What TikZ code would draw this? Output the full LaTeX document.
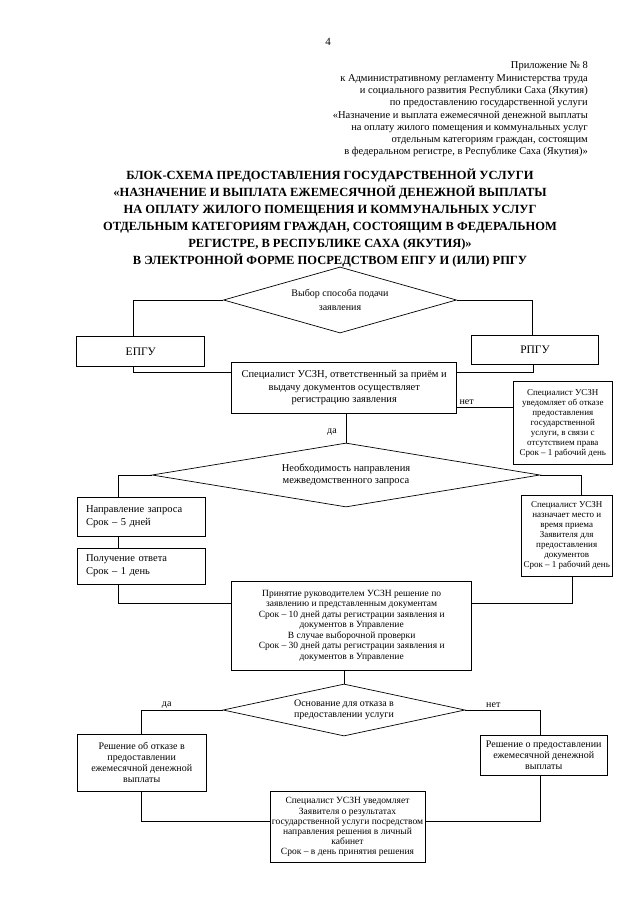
\documentclass[tikz,border=0pt]{standalone}
\usepackage{fontspec}
\setmainfont{Liberation Serif}
\usetikzlibrary{shapes.geometric}
\newcommand\myfs[2]{\fontsize{#1pt}{#2pt}\selectfont}
\begin{document}
\begin{tikzpicture}[x=1pt,y=-1pt,
 box/.style={draw, line width=0.7pt, inner sep=2pt, align=center, font=\myfs{10}{11}},
 dia/.style={draw, diamond, line width=0.7pt, inner sep=0pt, align=center},
 conn/.style={line width=0.7pt},
 lbl/.style={inner sep=0pt, font=\myfs{10}{11}}]
\useasboundingbox[fill=white] (0,0) rectangle (630,905);

\node[inner sep=0pt, font=\myfs{11}{13}] (pnum) at (328,42) {4};
\node[inner sep=0pt, align=right, anchor=east, font=\myfs{10.5}{12.3}] (hdr) at (588,109.5) {Приложение № 8\\
к Административному регламенту Министерства труда\\
и социального развития Республики Саха (Якутия)\\
по предоставлению государственной услуги\\
«Назначение и выплата ежемесячной денежной выплаты\\
на оплату жилого помещения и коммунальных услуг\\
отдельным категориям граждан, состоящим\\
в федеральном регистре, в Республике Саха (Якутия)»};
\node[inner sep=0pt, align=center, font=\bfseries\myfs{12.5}{17}] (ttl) at (330,218) {БЛОК-СХЕМА ПРЕДОСТАВЛЕНИЯ ГОСУДАРСТВЕННОЙ УСЛУГИ\\
«НАЗНАЧЕНИЕ И ВЫПЛАТА ЕЖЕМЕСЯЧНОЙ ДЕНЕЖНОЙ ВЫПЛАТЫ\\
НА ОПЛАТУ ЖИЛОГО ПОМЕЩЕНИЯ И КОММУНАЛЬНЫХ УСЛУГ\\
ОТДЕЛЬНЫМ КАТЕГОРИЯМ ГРАЖДАН, СОСТОЯЩИМ В ФЕДЕРАЛЬНОМ\\
РЕГИСТРЕ, В РЕСПУБЛИКЕ САХА (ЯКУТИЯ)»\\
В ЭЛЕКТРОННОЙ ФОРМЕ ПОСРЕДСТВОМ ЕПГУ И (ИЛИ) РПГУ};

\node[dia, aspect=3.53, minimum width=233pt, minimum height=66pt, font=\myfs{10}{14.4}] (d1) at (340,300) {Выбор способа подачи\\заявления};
\node[box, minimum width=128pt, minimum height=30pt, font=\myfs{11.5}{13}] (epgu) at (140.8,351.7) {ЕПГУ};
\node[box, minimum width=126.6pt, minimum height=29pt, font=\myfs{11.5}{13}] (rpgu) at (535,349.5) {РПГУ};
\node[box, minimum width=225pt, minimum height=50.6pt, font=\myfs{10.5}{12.5}] (b1) at (344.2,388) {Специалист УСЗН, ответственный за приём и\\выдачу документов осуществляет\\регистрацию заявления};
\node[box, minimum width=99pt, minimum height=83pt, font=\myfs{9}{10}] (r1) at (562.8,423.3) {Специалист УСЗН\\уведомляет об отказе\\предоставления\\государственной\\услуги, в связи с\\отсутствием права\\Срок – 1 рабочий день};
\node[dia, aspect=6.06, minimum width=388pt, minimum height=64pt, font=\myfs{10.5}{12}] (d2) at (346,475) {Необходимость направления\\межведомственного запроса};
\node[box, minimum width=128pt, minimum height=39pt, align=left, text width=110pt, inner xsep=9pt, font=\myfs{10.5}{12.7}] (q1) at (141,517) {Направление запроса\\Срок – 5 дней};
\node[box, minimum width=128pt, minimum height=35.7pt, align=left, text width=110pt, inner xsep=9pt, font=\myfs{10.5}{12.7}] (q2) at (141,566) {Получение ответа\\Срок – 1 день};
\node[box, minimum width=90pt, minimum height=81pt, font=\myfs{9}{10}] (r2) at (566.7,535.5) {Специалист УСЗН\\назначает место и\\время приема\\Заявителя для\\предоставления\\документов\\Срок – 1 рабочий день};
\node[box, minimum width=240pt, minimum height=88.3pt, font=\myfs{9.5}{10.5}] (b3) at (351.7,625.8) {Принятие руководителем УСЗН решение по\\заявлению и представленным документам\\Срок – 10 дней даты регистрации заявления и\\документов в Управление\\В случае выборочной проверки\\Срок – 30 дней даты регистрации заявления и\\документов в Управление};
\node[dia, aspect=4.65, minimum width=242pt, minimum height=52pt, font=\myfs{10}{10.7}] (d3) at (344,710) {Основание для отказа в\\предоставлении услуги};
\node[box, minimum width=128.7pt, minimum height=56.7pt] (lbox) at (141.7,762.7) {Решение об отказе в\\предоставлении\\ежемесячной денежной\\выплаты};
\node[box, minimum width=127.3pt, minimum height=40.7pt] (rbox) at (543.7,755.3) {Решение о предоставлении\\ежемесячной денежной\\выплаты};
\node[box, minimum width=155pt, minimum height=71pt, font=\myfs{9.5}{10.2}] (b4) at (347.5,827.2) {Специалист УСЗН уведомляет\\Заявителя о результатах\\государственной услуги посредством\\направления решения в личный\\кабинет\\Срок – в день принятия решения};

\node[lbl] (l1) at (466.7,401.7) {нет};
\node[lbl] (l2) at (332,432) {да};
\node[lbl] (l3) at (166.7,705) {да};
\node[lbl] (l4) at (493.3,705) {нет};

\coordinate (n1) at ([yshift=6pt]b1.south east);
\draw[conn] (d1.west) -| ([xshift=-7pt]epgu.north);
\draw[conn] ([xshift=-7pt]epgu.south) |- ([yshift=-10pt]b1.north west);
\draw[conn] (d1.east) -| ([xshift=-3pt]rpgu.north);
\draw[conn] ([xshift=-2pt]rpgu.south) |- ([yshift=-10pt]b1.north east);
\draw[conn] (n1) -- (n1 -| r1.west);
\draw[conn] (d2.north |- b1.south) -- (d2.north);
\draw[conn] (d2.west) -| ([xshift=-23pt]q1.north);
\draw[conn] ([xshift=-23pt]q1.south) -- ([xshift=-23pt]q2.north);
\draw[conn] ([xshift=-23pt]q2.south) |- ([yshift=-22pt]b3.north west);
\draw[conn] (d2.east) -| ([xshift=15pt]r2.north);
\draw[conn] ([xshift=6pt]r2.south) |- ([yshift=-22pt]b3.north east);
\draw[conn] (d3.north |- b3.south) -- (d3.north);
\draw[conn] (d3.west) -| (lbox.north);
\draw[conn] (d3.east) -| ([xshift=-3pt]rbox.north);
\draw[conn] (lbox.south) |- ([yshift=-30pt]b4.north west);
\draw[conn] ([xshift=-3pt]rbox.south) |- ([yshift=-30pt]b4.north east);
\end{tikzpicture}
\end{document}
